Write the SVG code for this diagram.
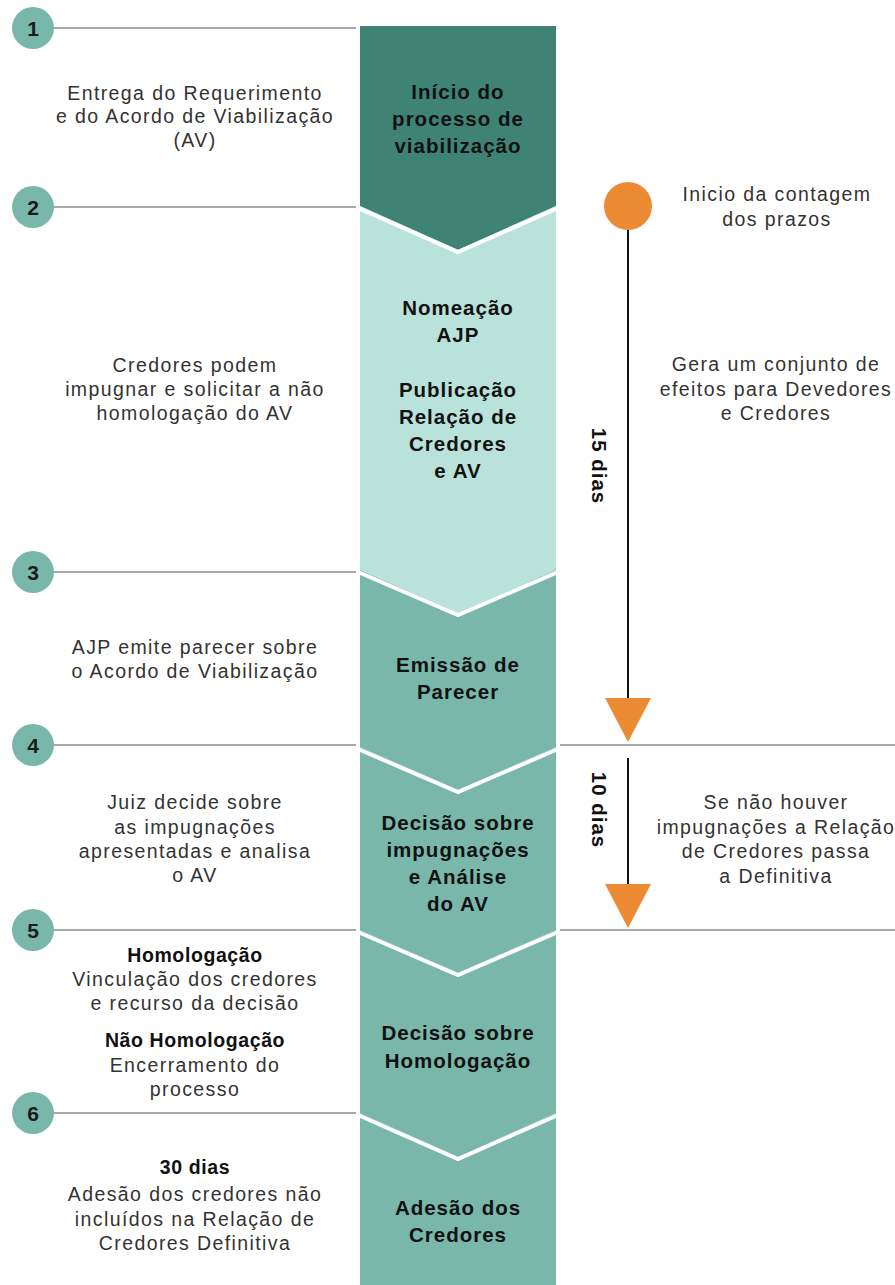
<svg xmlns="http://www.w3.org/2000/svg" width="895" height="1285" viewBox="0 0 895 1285">
<style>
.t{font-family:"Liberation Sans",Arial,sans-serif;font-size:19.5px;letter-spacing:1.4px;fill:#333;text-anchor:middle}
.b{font-family:"Liberation Sans",Arial,sans-serif;font-size:20.5px;letter-spacing:1px;font-weight:bold;fill:#111;text-anchor:middle}
.lb{font-family:"Liberation Sans",Arial,sans-serif;font-size:19.5px;letter-spacing:0.6px;font-weight:bold;fill:#111;text-anchor:middle}
.n{font-family:"Liberation Sans",Arial,sans-serif;font-size:21px;font-weight:bold;fill:#1a1a1a;text-anchor:middle}
.num{fill:#78b7aa}
.ln{stroke:#555;stroke-width:1.2;fill:none}
.gap{stroke:#fff;stroke-width:4;fill:none}
.ar{stroke:#111;stroke-width:2;fill:none}
.tri{fill:#ed8b35}
</style>
<rect width="895" height="1285" fill="#fff"/>
<g id="column">
<polygon id="seg1" points="360,26 556,26 556,206 458,250 360,206" fill="#3f8374"/>
<polygon id="seg2" points="360,206 458,250 556,206 556,570 458,613 360,570" fill="#b9e3da"/>
<polygon id="seg3" points="360,570 458,613 556,570 556,747 458,790 360,747" fill="#78b7aa"/>
<polygon id="seg4" points="360,747 458,790 556,747 556,930 458,973 360,930" fill="#78b7aa"/>
<polygon id="seg5" points="360,930 458,973 556,930 556,1113 458,1157 360,1113" fill="#78b7aa"/>
<polygon id="seg6" points="360,1113 458,1157 556,1113 556,1285 360,1285" fill="#78b7aa"/>
<polyline class="gap" points="358,208 458,252 558,208"/>
<polyline class="gap" points="358,572 458,615 558,572"/>
<polyline class="gap" points="358,749 458,792 558,749"/>
<polyline class="gap" points="358,932 458,975 558,932"/>
<polyline class="gap" points="358,1115 458,1159 558,1115"/>
</g>
<g id="connectors">
<line class="ln" x1="40" y1="28" x2="356" y2="28"/>
<line class="ln" x1="40" y1="207" x2="356" y2="207"/>
<line class="ln" x1="40" y1="572" x2="356" y2="572"/>
<line class="ln" x1="40" y1="745" x2="356" y2="745"/>
<line class="ln" x1="560" y1="745" x2="895" y2="745"/>
<line class="ln" x1="40" y1="930" x2="356" y2="930"/>
<line class="ln" x1="560" y1="930" x2="895" y2="930"/>
<line class="ln" x1="40" y1="1113" x2="356" y2="1113"/>
<line class="ar" x1="628" y1="228" x2="628" y2="700"/>
<polygon class="tri" points="605,698 651,698 628,742"/>
<line class="ar" x1="628" y1="758" x2="628" y2="886"/>
<polygon class="tri" points="605,884 651,884 628,928"/>
</g>
<g id="markers">
<g id="m1"><circle class="num" cx="33" cy="28" r="21"/><text class="n" x="33" y="35.5">1</text></g>
<g id="m2"><circle class="num" cx="33" cy="207" r="21"/><text class="n" x="33" y="214.5">2</text></g>
<g id="m3"><circle class="num" cx="33" cy="572" r="21"/><text class="n" x="33" y="579.5">3</text></g>
<g id="m4"><circle class="num" cx="33" cy="745" r="21"/><text class="n" x="33" y="752.5">4</text></g>
<g id="m5"><circle class="num" cx="33" cy="930" r="21"/><text class="n" x="33" y="937.5">5</text></g>
<g id="m6"><circle class="num" cx="33" cy="1113" r="21"/><text class="n" x="33" y="1120.5">6</text></g>
<g id="start"><circle cx="628" cy="206" r="24" fill="#ed8b35"/></g>
</g>
<g id="labels-center">
<text class="b" x="458" y="99">Início do</text>
<text class="b" x="458" y="126">processo de</text>
<text class="b" x="458" y="153">viabilização</text>
<text class="b" x="458" y="315">Nomeação</text>
<text class="b" x="458" y="342">AJP</text>
<text class="b" x="458" y="397">Publicação</text>
<text class="b" x="458" y="424">Relação de</text>
<text class="b" x="458" y="451">Credores</text>
<text class="b" x="458" y="478">e AV</text>
<text class="b" x="458" y="672">Emissão de</text>
<text class="b" x="458" y="699">Parecer</text>
<text class="b" x="458" y="830">Decisão sobre</text>
<text class="b" x="458" y="857">impugnações</text>
<text class="b" x="458" y="884">e Análise</text>
<text class="b" x="458" y="911">do AV</text>
<text class="b" x="458" y="1040">Decisão sobre</text>
<text class="b" x="458" y="1068">Homologação</text>
<text class="b" x="458" y="1215">Adesão dos</text>
<text class="b" x="458" y="1242">Credores</text>
</g>
<g id="labels-left">
<text class="t" x="195" y="100">Entrega do Requerimento</text>
<text class="t" x="195" y="123">e do Acordo de Viabilização</text>
<text class="t" x="195" y="147">(AV)</text>
<text class="t" x="195" y="372">Credores podem</text>
<text class="t" x="195" y="396">impugnar e solicitar a não</text>
<text class="t" x="195" y="420">homologação do AV</text>
<text class="t" x="195" y="654">AJP emite parecer sobre</text>
<text class="t" x="195" y="678">o Acordo de Viabilização</text>
<text class="t" x="195" y="809">Juiz decide sobre</text>
<text class="t" x="195" y="834">as  impugnações</text>
<text class="t" x="195" y="858">apresentadas e analisa</text>
<text class="t" x="195" y="882">o AV</text>
<text class="lb" x="195" y="962">Homologação</text>
<text class="t" x="195" y="986">Vinculação dos credores</text>
<text class="t" x="195" y="1010">e recurso da decisão</text>
<text class="lb" x="195" y="1047">Não Homologação</text>
<text class="t" x="195" y="1072">Encerramento do</text>
<text class="t" x="195" y="1096">processo</text>
<text class="lb" x="195" y="1174">30 dias</text>
<text class="t" x="195" y="1201">Adesão dos credores não</text>
<text class="t" x="195" y="1226">incluídos na Relação de</text>
<text class="t" x="195" y="1250">Credores Definitiva</text>
</g>
<g id="labels-right">
<text class="t" x="777" y="201">Inicio da contagem</text>
<text class="t" x="777" y="226">dos prazos</text>
<text class="t" x="776" y="371">Gera um conjunto de</text>
<text class="t" x="776" y="396">efeitos para Devedores</text>
<text class="t" x="776" y="420">e Credores</text>
<text class="t" x="776" y="809">Se não houver</text>
<text class="t" x="776" y="834">impugnações a Relação</text>
<text class="t" x="776" y="858">de Credores passa</text>
<text class="t" x="776" y="883">a Definitiva</text>
<text class="b" transform="translate(592,466) rotate(90)" x="0" y="0">15 dias</text>
<text class="b" transform="translate(592,810) rotate(90)" x="0" y="0">10 dias</text>
</g>
</svg>
